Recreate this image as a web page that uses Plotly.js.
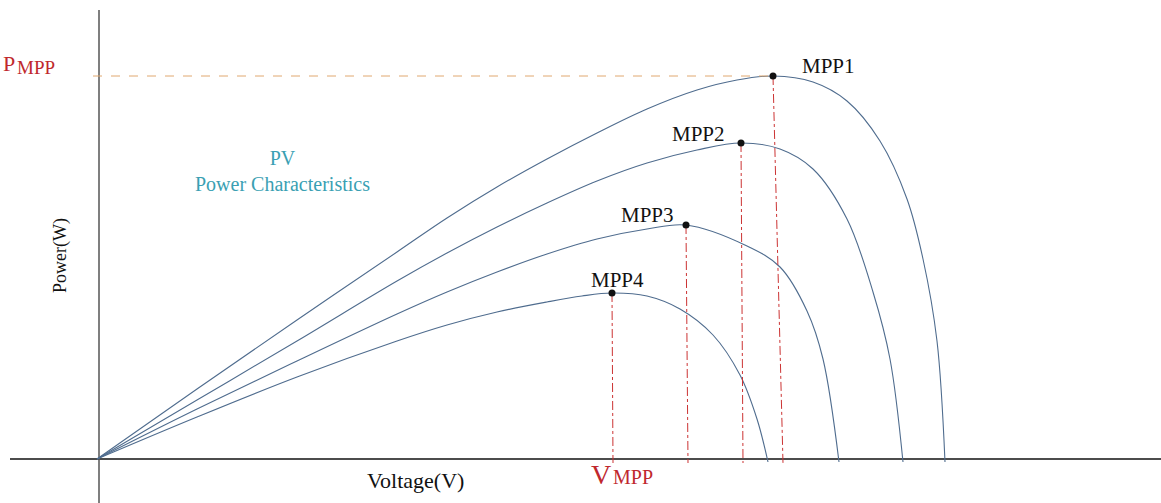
<!DOCTYPE html>
<html>
<head>
<meta charset="utf-8">
<script src="https://cdn.plot.ly/plotly-3.0.1.min.js"></script>
<style>html,body{margin:0;padding:0;background:#fff;}#chart{width:1161px;height:503px;}</style>
</head>
<body>
<div id="chart"></div>
<script>
// Voltage / power samples (arbitrary units, no ticks shown)
const V1 = [0,100,200,300,350,400,450,500,550,600,640,676,716,750,783,810,826,840,848];
const P1 = [0,70,139,207,241,272,300,326,350,369,379,383,377,358,318,260,200,118,-3];
const V2 = [0,100,200,300,350,400,450,500,550,600,644,683,716,750,776,793,806];
const P2 = [0,59,118,178,206,232,256,278,296,309,316,310,290,240,167,100,-3];
const V3 = [0,100,200,300,350,400,450,500,550,589,650,683,710,726,742];
const P3 = [0,50,98,145,167,187,205,220,230,234,213,192,148,100,-3];
const V4 = [0,100,200,300,350,400,450,485,515,550,583,616,643,660,671];
const P4 = [0,42,82,118,134,147,157,163,166,163,150,124,84,40,-3];

const mppNames = ["MPP1","MPP2","MPP3","MPP4"];
const mppV = [676,644,589,515];
const mppP = [383,316,234,166];
const dropFootV = [686,646,591,516];

const curveColor = "#4f6c8e";
const serif = "Times New Roman, Times, Liberation Serif, DejaVu Serif, serif";

const traces = [];
[[V1,P1],[V2,P2],[V3,P3],[V4,P4]].forEach(([v,p]) => {
  traces.push({x:v, y:p, mode:"lines", line:{color:curveColor, width:1.1, shape:"spline", smoothing:1}, hoverinfo:"skip"});
});
mppV.forEach((v,i) => {
  traces.push({x:[v, dropFootV[i]], y:[mppP[i], -4], mode:"lines",
    line:{color:"#cc3333", width:1, dash:"dashdot"}, hoverinfo:"skip"});
});
traces.push({x:[-4, mppV[0]], y:[mppP[0], mppP[0]], mode:"lines",
  line:{color:"#e0a870", width:1, dash:"dash"}, hoverinfo:"skip"});
traces.push({x:mppV, y:mppP, mode:"markers", marker:{color:"#111", size:7}, hoverinfo:"skip"});

const labelPos = [[731,393],[601,325],[550,244],[520,179]];
const annotations = mppNames.map((n,i) => ({
  x: labelPos[i][0], y: labelPos[i][1], text: n, showarrow:false,
  xanchor:"center", yanchor:"middle", font:{family:serif, size:21, color:"#111"}
}));
annotations.push(
  {x:-96, y:396, text:"P", showarrow:false, xanchor:"left", yanchor:"middle", font:{family:serif, size:22, color:"#c0282d"}},
  {x:-82, y:392, text:"MPP", showarrow:false, xanchor:"left", yanchor:"middle", font:{family:serif, size:19, color:"#c0282d"}},
  {x:504, y:-15, text:"V", showarrow:false, xanchor:"center", yanchor:"middle", font:{family:serif, size:28, color:"#c0282d"}},
  {x:514, y:-18, text:"MPP", showarrow:false, xanchor:"left", yanchor:"middle", font:{family:serif, size:20, color:"#c0282d"}},
  {x:318, y:-21, text:"Voltage(V)", showarrow:false, xanchor:"center", yanchor:"middle", font:{family:serif, size:22, color:"#111"}},
  {x:-37, y:203, text:"Power(W)", textangle:-90, showarrow:false, xanchor:"center", yanchor:"middle", font:{family:serif, size:18, color:"#111"}},
  {x:185, y:288, text:"PV<br>Power Characteristics", showarrow:false, xanchor:"center", yanchor:"middle", align:"center", font:{family:serif, size:20, color:"#3a9fb3"}}
);

const layout = {
  width:1161, height:503,
  margin:{l:0, r:0, t:0, b:0},
  paper_bgcolor:"#fff", plot_bgcolor:"#fff",
  font:{family:serif},
  showlegend:false,
  xaxis:{range:[-97,1064], showgrid:false, zeroline:false, showticklabels:false, ticks:"", showline:false, fixedrange:true},
  yaxis:{range:[-44,459], showgrid:false, zeroline:false, showticklabels:false, ticks:"", showline:false, fixedrange:true},
  shapes:[
    {type:"line", xref:"x", yref:"y", x0:-87, x1:1064, y0:0, y1:0, line:{color:"#111", width:1.5}, layer:"below"},
    {type:"line", xref:"x", yref:"y", x0:2, x1:2, y0:-44, y1:449, line:{color:"#555", width:1.5}, layer:"below"}
  ],
  annotations: annotations
};

Plotly.newPlot("chart", traces, layout, {staticPlot:true, displayModeBar:false});
</script>
</body>
</html>
